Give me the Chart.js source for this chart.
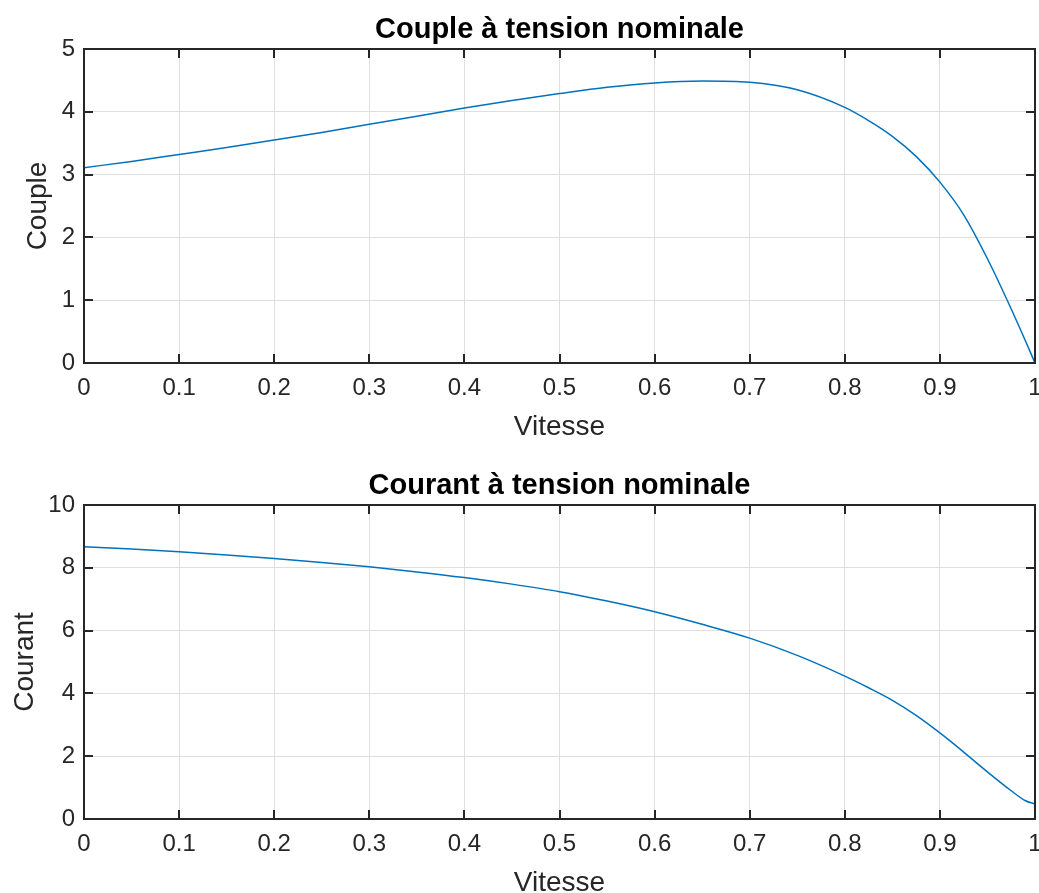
<!DOCTYPE html>
<html lang="fr">
<head>
    <meta charset="UTF-8">
    <title>Couple et courant à tension nominale</title>
    <script src="https://cdn.jsdelivr.net/npm/chart.js"></script>
    <style>
        body { margin: 0; overflow: hidden; background: #fff; }
        #wrap { position: relative; width: 1039px; height: 893px; overflow: hidden; }
        canvas { position: absolute; left: 0; }
        #c1 { top: 0; }
        #c2 { top: 446px; }
    </style>
</head>
<body>
<div id="wrap">
    <canvas id="c1" width="1039" height="446"></canvas>
    <canvas id="c2" width="1039" height="460"></canvas>
</div>

<script>
// values
var vitesse = [0, 0.05, 0.1, 0.15, 0.2, 0.25, 0.3, 0.35, 0.4, 0.45, 0.5, 0.55, 0.6, 0.65, 0.7, 0.75,
               0.8, 0.825, 0.85, 0.875, 0.9, 0.925, 0.95, 0.975, 0.99, 1];
var couple = [3.11, 3.21, 3.32, 3.43, 3.55, 3.67, 3.80, 3.93, 4.06, 4.18, 4.29, 4.39, 4.46, 4.49, 4.47, 4.35,
              4.07, 3.86, 3.61, 3.29, 2.88, 2.36, 1.66, 0.86, 0.35, 0];
var courant = [8.67, 8.60, 8.51, 8.41, 8.30, 8.17, 8.03, 7.87, 7.69, 7.48, 7.24, 6.94, 6.60, 6.20, 5.76, 5.21,
               4.55, 4.18, 3.78, 3.30, 2.74, 2.13, 1.50, 0.90, 0.58, 0.48];
var xTicks = [0, 0.1, 0.2, 0.3, 0.4, 0.5, 0.6, 0.7, 0.8, 0.9, 1];
var coupleTicks = [0, 1, 2, 3, 4, 5];
var courantTicks = [0, 2, 4, 6, 8, 10];

var FONT = '"Liberation Sans", Arial, Helvetica, sans-serif';
var INK = '#262626';

// matlab style box with inward ticks on all four sides
var boxPlugin = {
    id: 'box',
    afterDraw: function(chart) {
        var a = chart.chartArea, ctx = chart.ctx;
        var xs = chart.scales.x, ys = chart.scales.y;
        var tl = 9;
        ctx.save();
        ctx.strokeStyle = INK;
        ctx.lineWidth = 2;
        ctx.beginPath();
        xs.ticks.forEach(function(t) {
            var px = Math.round(xs.getPixelForValue(t.value));
            ctx.moveTo(px, a.bottom); ctx.lineTo(px, a.bottom - tl);
            ctx.moveTo(px, a.top); ctx.lineTo(px, a.top + tl);
        });
        ys.ticks.forEach(function(t) {
            var py = Math.round(ys.getPixelForValue(t.value));
            ctx.moveTo(a.left, py); ctx.lineTo(a.left + tl, py);
            ctx.moveTo(a.right, py); ctx.lineTo(a.right - tl, py);
        });
        ctx.stroke();
        ctx.strokeRect(a.left, a.top, a.right - a.left, a.bottom - a.top);
        ctx.restore();
    }
};

function makeChart(id, o) {
    var pts = vitesse.map(function(v, i) { return { x: v, y: o.values[i] }; });
    return new Chart(document.getElementById(id), {
        type: 'line',
        data: {
            datasets: [{
                data: pts,
                borderColor: '#0072BD',
                borderWidth: 1.5,
                pointRadius: 0,
                fill: false,
                cubicInterpolationMode: 'monotone'
            }]
        },
        options: {
            responsive: false,
            animation: false,
            layout: { padding: { left: 0, right: 4, top: 0, bottom: 0 } },
            plugins: {
                legend: { display: false },
                tooltip: { enabled: false },
                title: {
                    display: true,
                    fullSize: false,
                    text: o.title,
                    color: '#000',
                    font: { family: FONT, size: 29, weight: 'bold', lineHeight: 1 },
                    padding: o.titlePad
                }
            },
            scales: {
                x: {
                    type: 'linear',
                    min: 0, max: 1,
                    afterBuildTicks: function(s) { s.ticks = xTicks.map(function(v) { return { value: v }; }); },
                    afterFit: function(s) { s.height = o.xHeight; s.paddingLeft = 0; s.paddingRight = 0; },
                    grid: { color: '#dfdfdf', lineWidth: 1, drawTicks: false },
                    border: { display: false },
                    ticks: {
                        color: INK, padding: 11, maxRotation: 0,
                        font: { family: FONT, size: 24 },
                        callback: function(v) { return String(Number(v.toFixed(1))); }
                    },
                    title: {
                        display: true, text: 'Vitesse', color: INK,
                        font: { family: FONT, size: 28 },
                        padding: { top: 0, bottom: o.xTitlePad }
                    }
                },
                y: {
                    min: o.yTicks[0], max: o.yTicks[o.yTicks.length - 1],
                    afterBuildTicks: function(s) { s.ticks = o.yTicks.map(function(v) { return { value: v }; }); },
                    afterFit: function(s) { s.width = 84; },
                    grid: { color: '#dfdfdf', lineWidth: 1, drawTicks: false },
                    border: { display: false },
                    ticks: { color: INK, padding: 9, font: { family: FONT, size: 24 } },
                    title: {
                        display: true, text: o.yLabel, color: INK,
                        font: { family: FONT, size: 28 },
                        padding: { top: o.yTitlePad, bottom: 0 }
                    }
                }
            }
        },
        plugins: [boxPlugin]
    });
}

makeChart('c1', {
    values: couple, title: 'Couple à tension nominale', yLabel: 'Couple', yTicks: coupleTicks,
    titlePad: { top: 15, bottom: 5 }, xHeight: 83, xTitlePad: 2, yTitlePad: 21
});
makeChart('c2', {
    values: courant, title: 'Courant à tension nominale', yLabel: 'Courant', yTicks: courantTicks,
    titlePad: { top: 25, bottom: 5 }, xHeight: 87, xTitlePad: 6, yTitlePad: 8
});
</script>
</body>
</html>
